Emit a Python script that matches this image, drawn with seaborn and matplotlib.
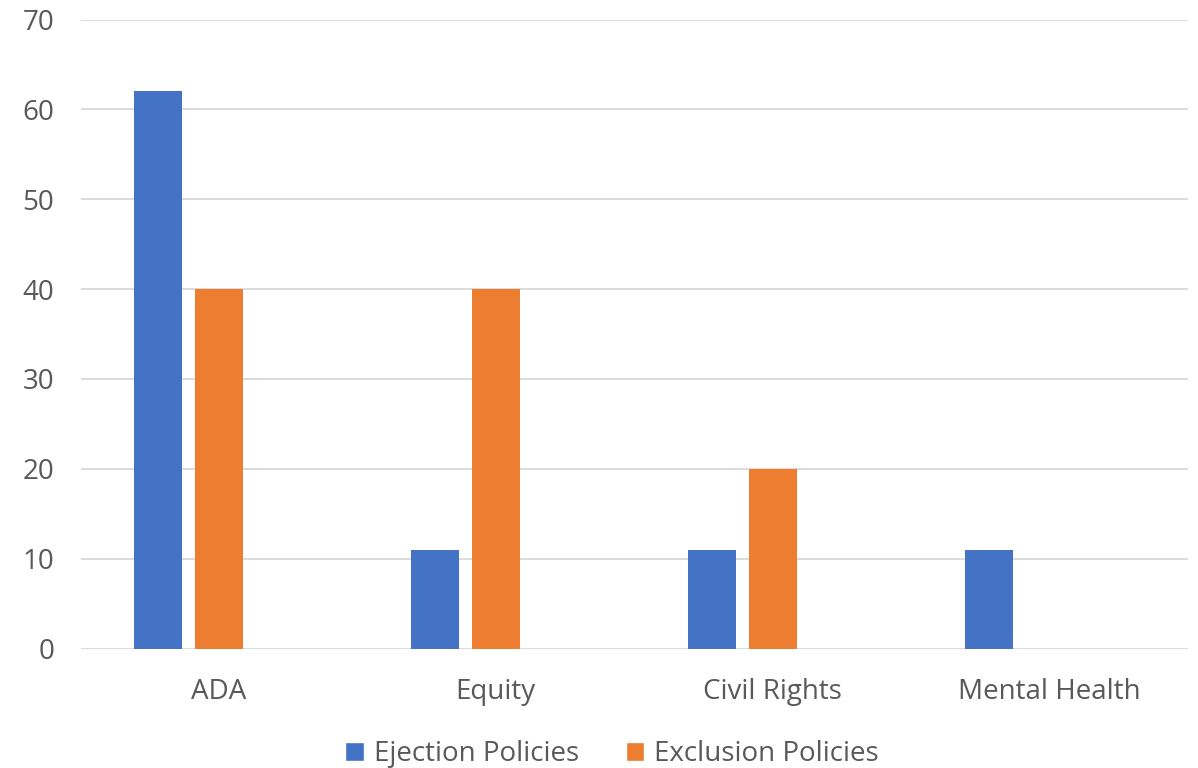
import matplotlib
matplotlib.use("Agg")
import matplotlib.pyplot as plt
from matplotlib.patches import Patch
import seaborn as sns
import pandas as pd

categories = ["ADA", "Equity", "Civil Rights", "Mental Health"]
ejection = [62, 11, 11, 11]
exclusion = [40, 40, 20, 0]
# third (empty) series in the original workbook, reserves a slot in each group
empty_series = [float("nan")] * 4
series_names = ["Ejection Policies", "Exclusion Policies", " "]
colors = ["#4472C4", "#ED7D31", "#A5A5A5"]
yticks = [0, 10, 20, 30, 40, 50, 60, 70]

rows = []
for name, vals in zip(series_names, [ejection, exclusion, empty_series]):
    for c, v in zip(categories, vals):
        rows.append({"category": c, "series": name, "value": v})
df = pd.DataFrame(rows)

sns.set_theme(style="white")
plt.rcParams["font.family"] = ["Open Sans", "DejaVu Sans"]

fig = plt.figure(figsize=(11.98, 7.68), dpi=100)
ax = fig.add_axes([80.5 / 1198, 1 - 648.5 / 768, (1188 - 80.5) / 1198, (648.5 - 19.5) / 768])

sns.barplot(data=df, x="category", y="value", hue="series", order=categories,
            hue_order=series_names, palette=colors, saturation=1, width=0.661, gap=0.214,
            errorbar=None, legend=False, ax=ax, zorder=3, linewidth=0)

ax.set_xlim(-0.5, 3.5)
ax.set_ylim(0, 70)
ax.set_yticks(yticks)
ax.yaxis.grid(True, color="#D9D9D9", linewidth=1.3, zorder=0)
ax.xaxis.grid(False)
for s in ax.spines.values():
    s.set_visible(False)
ax.set_xlabel("")
ax.set_ylabel("")
ax.tick_params(axis="both", length=0, labelsize=20, labelcolor="#595959")
ax.tick_params(axis="y", pad=19)
ax.tick_params(axis="x", pad=21.5)

handles = [Patch(facecolor=colors[0]), Patch(facecolor=colors[1])]
fig.legend(handles, series_names[:2], loc="center", bbox_to_anchor=(612 / 1198, 1 - 754 / 768),
           ncol=2, frameon=False, fontsize=20, labelcolor="#595959",
           handlelength=0.65, handleheight=0.65, handletextpad=0.36, columnspacing=1.7,
           borderpad=0, borderaxespad=0)

fig.savefig("out.png", dpi=100, facecolor="white")
